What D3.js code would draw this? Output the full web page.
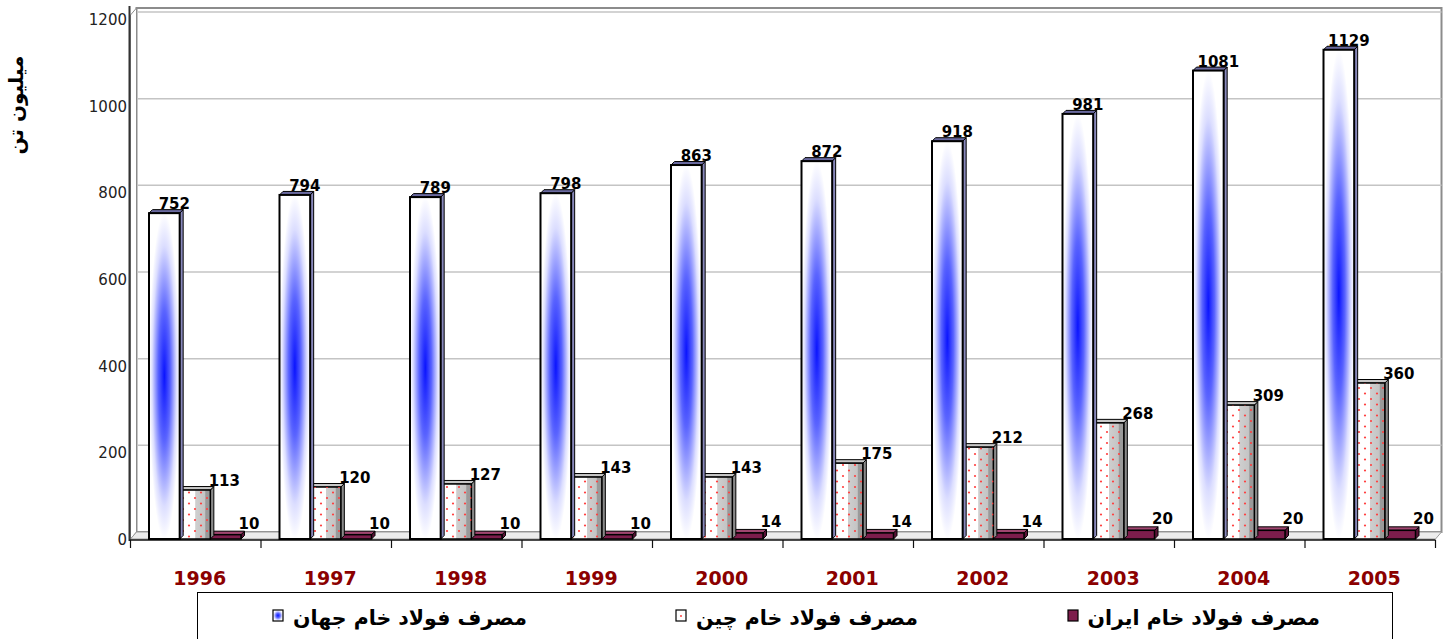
<!DOCTYPE html>
<html><head><meta charset="utf-8">
<script src="https://cdn.jsdelivr.net/npm/d3@7"></script>
<style>body{margin:0;background:#fff}svg{display:block}</style>
</head><body>
<script>
const years = ["1996","1997","1998","1999","2000","2001","2002","2003","2004","2005"];
const worldValues = [752, 794, 789, 798, 863, 872, 918, 981, 1081, 1129];
const chinaValues = [113, 120, 127, 143, 143, 175, 212, 268, 309, 360];
const iranValues  = [10, 10, 10, 10, 14, 14, 14, 20, 20, 20];
const seriesNames = ["مصرف فولاد خام جهان", "مصرف فولاد خام چین", "مصرف فولاد خام ایران"];
const yTicks = [0, 200, 400, 600, 800, 1000, 1200];
const yTitle = "میلیون تن";

const W = 1452, H = 639;
const svg = d3.select("body").append("svg").attr("width", W).attr("height", H);
const defs = svg.append("defs");

const rg = defs.append("radialGradient").attr("id","worldGrad").attr("cx","0.5").attr("cy","0.5").attr("r","0.5");
rg.append("stop").attr("offset","0").attr("stop-color","#0a14ff");
rg.append("stop").attr("offset","0.4").attr("stop-color","#5a64ff");
rg.append("stop").attr("offset","0.8").attr("stop-color","#dcdeff");
rg.append("stop").attr("offset","1").attr("stop-color","#ffffff");
const cg = defs.append("linearGradient").attr("id","chinaGrad").attr("x1","0").attr("x2","1").attr("y1","0").attr("y2","0");
cg.append("stop").attr("offset","0").attr("stop-color","#ffffff");
cg.append("stop").attr("offset","0.5").attr("stop-color","#ffffff");
cg.append("stop").attr("offset","0.52").attr("stop-color","#cfcfcf");
cg.append("stop").attr("offset","0.82").attr("stop-color","#c4c4c4");
cg.append("stop").attr("offset","0.85").attr("stop-color","#9a9a9a");
cg.append("stop").attr("offset","1").attr("stop-color","#9a9a9a");
const pat = defs.append("pattern").attr("id","dots").attr("patternUnits","userSpaceOnUse").attr("width",12).attr("height",11);
pat.append("circle").attr("cx",3).attr("cy",3).attr("r",1.1).attr("fill","#ff4040");
pat.append("circle").attr("cx",9).attr("cy",8.5).attr("r",1.1).attr("fill","#ff4040");

const left = 130.5, right = 1435.5;
const y0 = 539, yTop = 19;
const y = d3.scaleLinear().domain([0,1200]).range([y0, yTop]);
const dxB = 6, dyB = -7;
const x = d3.scaleBand().domain(years).range([left, right]).paddingInner(0).paddingOuter(0);
const xs = d3.scaleBand().domain([0,1,2]).range([18.5, 110.5]);

svg.append("rect").attr("x", left+dxB).attr("y", 8).attr("width", right - left).attr("height", y0+dyB-8)
  .attr("fill","#fff").attr("stroke","#8c8c8c").attr("stroke-width",2);
svg.append("g").selectAll("line").data(yTicks.slice(1)).join("line")
  .attr("x1", left+dxB).attr("x2", right+dxB).attr("y1", d=>y(d)+dyB).attr("y2", d=>y(d)+dyB)
  .attr("stroke","#c4c4c4").attr("stroke-width",1.5);
svg.append("polygon").attr("points", `${left},${y0} ${left+dxB},${y0+dyB} ${left+dxB},8 ${left},15`)
  .attr("fill","#fff").attr("stroke","#8c8c8c").attr("stroke-width",1);
svg.append("polygon").attr("points", `${left},${y0} ${left+dxB},${y0+dyB} ${right+dxB},${y0+dyB} ${right},${y0}`)
  .attr("fill","#ececec").attr("stroke","#9c9c9c").attr("stroke-width",1);

svg.append("line").attr("x1",left-1).attr("x2",left-1).attr("y1",6).attr("y2",y0+2).attr("stroke","#333").attr("stroke-width",2);
svg.append("g").selectAll("text").data(yTicks).join("text")
  .attr("x", 127).attr("y", d=>y(d)+6).attr("text-anchor","end")
  .attr("font-family","DejaVu Sans").attr("font-size",15).attr("fill","#222").text(d=>d);
svg.append("text").attr("transform","translate(23,105) rotate(-90)").attr("text-anchor","middle")
  .attr("font-family","DejaVu Sans").attr("font-weight","bold").attr("font-size",20).text(yTitle);

svg.append("line").attr("x1",left-1).attr("x2",right).attr("y1",y0+1).attr("y2",y0+1).attr("stroke","#111").attr("stroke-width",1.5);
svg.append("g").selectAll("line").data(d3.range(years.length+1)).join("line")
  .attr("x1", i=>left + i*x.bandwidth()).attr("x2", i=>left + i*x.bandwidth())
  .attr("y1", y0+1).attr("y2", y0+9).attr("stroke","#111").attr("stroke-width",1.2);
svg.append("g").selectAll("text").data(years).join("text")
  .attr("x", d=>x(d)+x.bandwidth()/2+4).attr("y", 585).attr("text-anchor","middle")
  .attr("font-family","DejaVu Sans").attr("font-weight","bold").attr("font-size",19).attr("fill","#8b0000").text(d=>d);

const bw = xs.bandwidth(), d3x = 3.5, d3y = -3.5;
function bar3d(g, bx, val, front, top, side, sw) {
  const yt = y(val), h = y0 - yt;
  g.append("polygon").attr("points", `${bx+bw},${y0} ${bx+bw+d3x},${y0+d3y} ${bx+bw+d3x},${yt+d3y} ${bx+bw},${yt}`)
    .attr("fill", side).attr("stroke","#000").attr("stroke-width",1);
  g.append("polygon").attr("points", `${bx},${yt} ${bx+d3x},${yt+d3y} ${bx+bw+d3x},${yt+d3y} ${bx+bw},${yt}`)
    .attr("fill", top).attr("stroke","#000").attr("stroke-width",1);
  g.append("rect").attr("x",bx).attr("y",yt).attr("width",bw).attr("height",h)
    .attr("fill",front).attr("stroke","#000").attr("stroke-width",sw);
  return {g, bx, yt, h};
}
const barsG = svg.append("g");
years.forEach((yr,i)=>{
  const g = barsG.append("g");
  const base = x(yr);
  const bI = base + xs(2);
  bar3d(g, bI, iranValues[i], "#7d1d4c", "#a04670", "#5a1236", 1.5);
  const bC = base + xs(1);
  const c = bar3d(g, bC, chinaValues[i], "url(#chinaGrad)", "#c8c8c8", "#8a8a8a", 1.5);
  g.append("rect").attr("x",bC).attr("y",c.yt).attr("width",bw).attr("height",c.h).attr("fill","url(#dots)").attr("stroke","none");
  const bW = base + xs(0);
  bar3d(g, bW, worldValues[i], "url(#worldGrad)", "#6a6aa0", "#8888bb", 2);
  g.append("text").attr("x", bW+bw/2+10).attr("y", y(worldValues[i])-4).attr("text-anchor","middle")
    .attr("font-family","DejaVu Sans").attr("font-weight","bold").attr("font-size",15).text(worldValues[i]);
  g.append("text").attr("x", bC+bw+14).attr("y", y(chinaValues[i])-4).attr("text-anchor","middle")
    .attr("font-family","DejaVu Sans").attr("font-weight","bold").attr("font-size",15).text(chinaValues[i]);
  g.append("text").attr("x", bI+bw+8).attr("y", y(iranValues[i])-6).attr("text-anchor","middle")
    .attr("font-family","DejaVu Sans").attr("font-weight","bold").attr("font-size",15).text(iranValues[i]);
});

svg.append("rect").attr("x",197.5).attr("y",592.5).attr("width",1195).attr("height",60)
  .attr("fill","#fff").attr("stroke","#000").attr("stroke-width",1);
const legendItems = [
  {name: seriesNames[2], textEnd: 1320, mx: 1068, fill: "#7d1d4c"},
  {name: seriesNames[1], textEnd: 918, mx: 676, fill: "#fff"},
  {name: seriesNames[0], textEnd: 527, mx: 273, fill: "url(#worldGrad)"}
];
const lg = svg.append("g");
legendItems.forEach((it, k)=>{
  lg.append("rect").attr("x",it.mx).attr("y",610).attr("width",10).attr("height",11)
    .attr("fill",it.fill).attr("stroke","#000").attr("stroke-width",1.2);
  if (k===1) lg.append("circle").attr("cx",it.mx+5).attr("cy",616).attr("r",1).attr("fill","#ff4040");
  lg.append("text").attr("x",it.textEnd).attr("y",625).attr("text-anchor","end")
    .attr("font-family","DejaVu Sans").attr("font-weight","bold").attr("font-size",20.5).text(it.name);
});
</script>
</body></html>
